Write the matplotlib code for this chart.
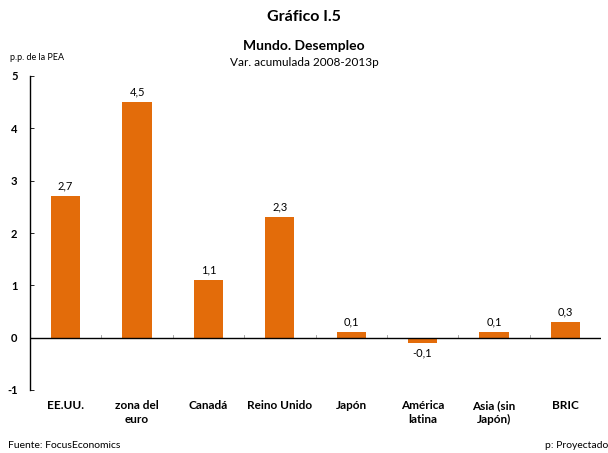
import matplotlib
matplotlib.use("Agg")
import matplotlib.pyplot as plt

plt.rcParams['font.family'] = ['Lato', 'DejaVu Sans']

categories = ["EE.UU.", "zona del\neuro", "Canadá", "Reino Unido", "Japón",
              "América\nlatina", "Asia (sin\nJapón)", "BRIC"]
values = [2.7, 4.5, 1.1, 2.3, 0.1, -0.1, 0.1, 0.3]
yticks = [-1, 0, 1, 2, 3, 4, 5]
ytick_labels = ["-1", "0", "1", "2", "3", "4", "5"]

bar_color = "#E36C0A"

fig = plt.figure(figsize=(6.08, 4.53), dpi=100)
ax = fig.add_axes([30 / 608, 1 - 390 / 453, 571 / 608, 314 / 453])

x = list(range(len(categories)))
ax.bar(x, values, width=0.41, color=bar_color, zorder=2)

for xi, v in zip(x, values):
    txt = f"{v:.1f}".replace(".", ",")
    if v >= 0:
        ax.text(xi, v + 0.09, txt, ha="center", va="bottom", fontsize=8)
    else:
        ax.text(xi, v - 0.09, txt, ha="center", va="top", fontsize=8)

ax.set_xlim(-0.5, len(categories) - 0.5)
ax.set_ylim(-1, 5)
ax.set_yticks(yticks)
ax.set_yticklabels(ytick_labels, fontsize=8, fontweight="bold")
ax.tick_params(axis="y", direction="in", length=3, width=0.6, pad=9)

# category separator ticks on the zero line
ax.set_xticks([])
for b in [i + 0.5 for i in range(len(categories) - 1)]:
    ax.plot([b, b], [0, 0.05], color="#999999", lw=0.6, zorder=1)
ax.axhline(0, color="black", lw=1.0, zorder=3)

for s in ["top", "right", "bottom"]:
    ax.spines[s].set_visible(False)
ax.spines["left"].set_linewidth(1.0)

for xi, lab in zip(x, categories):
    ax.text(xi, -1.2, lab, ha="center", va="top", fontsize=8.5, fontweight="bold",
            linespacing=1.3)

fig.text(0.5, 1 - 17 / 453, "Gráfico I.5", ha="center", va="center",
         fontsize=11.5, fontweight="bold")
fig.text(0.5, 1 - 46 / 453, "Mundo. Desempleo", ha="center", va="center",
         fontsize=10, fontweight="bold")
fig.text(0.5, 1 - 62 / 453, "Var. acumulada 2008-2013p", ha="center", va="center",
         fontsize=8.5)
fig.text(10 / 608, 1 - 58 / 453, "p.p. de la PEA", ha="left", va="center", fontsize=6.5)
fig.text(8 / 608, 1 - 446 / 453, "Fuente: FocusEconomics", ha="left", va="center",
         fontsize=7.5)
fig.text(608 / 608, 1 - 446 / 453, "p: Proyectado", ha="right", va="center",
         fontsize=7.5)

fig.savefig("out.png", dpi=100)
